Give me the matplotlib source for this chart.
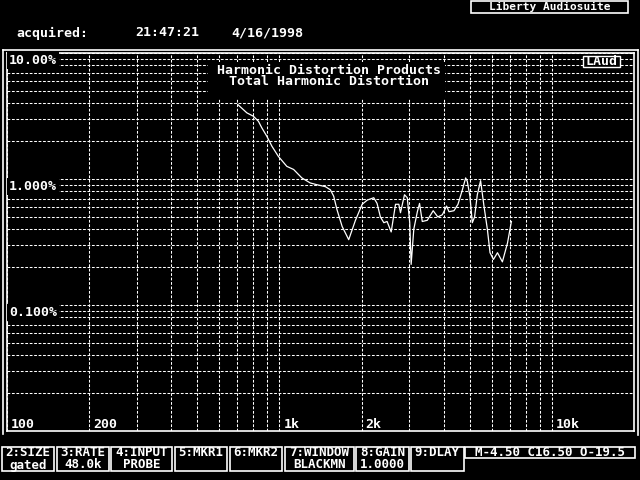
import matplotlib
matplotlib.use("Agg")
import matplotlib.pyplot as plt
from matplotlib.patches import Rectangle
from matplotlib.lines import Line2D
from matplotlib.ticker import LogLocator, NullFormatter

# THD curve
freq_hz = [703, 759, 802, 837, 861, 899, 938, 991, 1064, 1127, 1208, 1297, 1374,
           1473, 1538, 1581, 1626, 1698, 1795, 1900, 2011, 2099, 2218, 2281, 2346,
           2415, 2483, 2570, 2666, 2741, 2780, 2876, 2944, 3006, 3042, 3111, 3206,
           3266, 3342, 3486, 3665, 3811, 3960, 4105, 4188, 4367, 4519, 4690, 4822,
           4888, 4999, 5101, 5200, 5321, 5471, 5629, 5792, 5925, 6099, 6310, 6577,
           6866, 7098]
thd_pct = [3.90, 3.35, 3.15, 2.87, 2.55, 2.18, 1.82, 1.51, 1.26, 1.19, 1.02, 0.93,
           0.90, 0.87, 0.82, 0.73, 0.57, 0.42, 0.33, 0.47, 0.63, 0.68, 0.71, 0.64,
           0.50, 0.45, 0.46, 0.38, 0.63, 0.63, 0.54, 0.75, 0.71, 0.45, 0.21, 0.40,
           0.55, 0.64, 0.46, 0.47, 0.56, 0.50, 0.52, 0.61, 0.55, 0.56, 0.63, 0.82,
           1.02, 0.96, 0.73, 0.45, 0.50, 0.75, 0.97, 0.61, 0.40, 0.26, 0.23, 0.26,
           0.22, 0.31, 0.46]

x_tick_vals = [100, 200, 1000, 2000, 10000]
x_tick_labels = ["100", "200", "1k", "2k", "10k"]
y_tick_vals = [10, 1, 0.1]
y_tick_labels = ["10.00%", "1.000%", "0.100%"]

key_names = ["2:SIZE", "3:RATE", "4:INPUT", "5:MKR1", "6:MKR2", "7:WINDOW", "8:GAIN", "9:DLAY"]
key_values = ["gated", "48.0k", "PROBE", "", "", "BLACKMN", "1.0000", ""]
status_text = "M-4.50 C16.50 O-19.5"

plt.rcParams["lines.scale_dashes"] = False
FONT = dict(family="DejaVu Sans Mono", weight="bold", fontsize=9.5, color="white")
W, H = 640, 480


def fx(x):
    return x / W


def fy(y):
    return 1 - y / H


fig = plt.figure(figsize=(6.4, 4.8), dpi=100, facecolor="black")
ax = fig.add_axes([fx(7), fy(431), fx(634) - fx(7), fy(53) - fy(431)], facecolor="black")
ax.set_xscale("log")
ax.set_yscale("log")
ax.set_xlim(100, 20000)
ax.set_ylim(0.01, 10)
ax.xaxis.set_minor_locator(LogLocator(base=10, subs=range(2, 10)))
ax.yaxis.set_minor_locator(LogLocator(base=10, subs=range(2, 10)))
ax.xaxis.set_minor_formatter(NullFormatter())
ax.yaxis.set_minor_formatter(NullFormatter())
ax.tick_params(which="both", length=0, labelbottom=False, labelleft=False)
ax.set_axisbelow(True)
ax.grid(True, which="both", color="white", lw=0.75, linestyle=(0, (2, 1.2)))
for s in ax.spines.values():
    s.set_color("white")
    s.set_linewidth(1.2)

ax.plot(freq_hz, thd_pct, color="white", lw=0.9, zorder=3)

# tick labels drawn inside the plot, like the screen
for v, lab in zip(x_tick_vals, x_tick_labels):
    ax.annotate(lab, xy=(v, 0.01), xytext=(4, 6), textcoords="offset pixels",
                ha="left", va="center", zorder=4, **FONT)
for v, lab in zip(y_tick_vals, y_tick_labels):
    ax.annotate(lab, xy=(100, v), xytext=(2, -1), textcoords="offset pixels",
                ha="left", va="top", zorder=4,
                bbox=dict(boxstyle="square,pad=0.15", fc="black", ec="none"), **FONT)

# title block
ax.add_patch(Rectangle((fx(208), fy(99)), fx(445) - fx(208), fy(62) - fy(99),
                       transform=fig.transFigure, fc="black", ec="none", zorder=2))
fig.text(fx(329), fy(76), "Harmonic Distortion Products\nTotal Harmonic Distortion",
         ha="center", va="center", multialignment="center", linespacing=0.8,
         zorder=5, **FONT)

# LAud tag
ax.add_patch(Rectangle((fx(583), fy(66.5)), fx(620) - fx(583), fy(56.5) - fy(66.5),
                       transform=fig.transFigure, fc="black", ec="white", lw=1, zorder=4))
fig.text(fx(601.5), fy(61.5), "LAud", ha="center", va="center", zorder=5, **FONT)

# outer frame
for xs, ys in [([3, 637.5], [50, 50]), ([3, 3], [50, 434]), ([637.5, 637.5], [50, 435])]:
    fig.add_artist(Line2D([fx(x) for x in xs], [fy(y) for y in ys], color="white", lw=1.2))

# header
fig.add_artist(Rectangle((fx(471), fy(13)), fx(628) - fx(471), fy(1) - fy(13),
                         transform=fig.transFigure, fc="black", ec="white", lw=1.2))
fig.text(fx(549.5), fy(6.5), "Liberty Audiosuite", ha="center", va="center",
         **{**FONT, "fontsize": 8})
fig.text(fx(16), fy(33), "acquired:", ha="left", va="center", **FONT)
fig.text(fx(135), fy(33), "21:47:21", ha="left", va="center", **FONT)
fig.text(fx(231), fy(33), "4/16/1998", ha="left", va="center", **FONT)

# function key boxes
key_font = {**FONT, "fontsize": 9}
key_x = [(2, 54.3), (57, 109.4), (111.4, 172.2), (174.7, 227.3), (229.8, 282.4),
         (284.9, 354.3), (356.3, 409), (411, 463.7)]
for (x0, x1), name, val in zip(key_x, key_names, key_values):
    fig.add_artist(Rectangle((fx(x0), fy(471)), fx(x1) - fx(x0), fy(447) - fy(471),
                             transform=fig.transFigure, fc="black", ec="white", lw=1.2))
    fig.text(fx((x0 + x1) / 2), fy(453), name, ha="center", va="center", **key_font)
    if val:
        fig.text(fx((x0 + x1) / 2), fy(465), val, ha="center", va="center", **key_font)
fig.add_artist(Rectangle((fx(464.5), fy(458)), fx(634.7) - fx(464.5), fy(447) - fy(458),
                         transform=fig.transFigure, fc="black", ec="white", lw=1.2))
fig.text(fx(549.6), fy(452.5), status_text, ha="center", va="center", **key_font)

fig.savefig("out.png", dpi=100, facecolor="black")
